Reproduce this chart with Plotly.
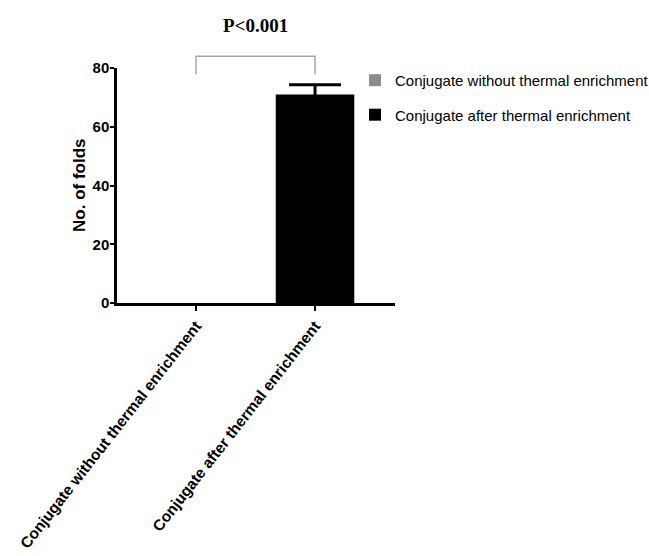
import plotly.graph_objects as go

categories = ["Conjugate without thermal enrichment", "Conjugate after thermal enrichment"]
values = [0, 71]
errors = [0, 3.3]
colors = ["#8c8c8c", "#000000"]
y_ticks = [0, 20, 40, 60, 80]
y_title = "No. of folds"
p_label = "P<0.001"

fig = go.Figure()
for i, (cat, val, err, col) in enumerate(zip(categories, values, errors, colors)):
    fig.add_trace(go.Bar(
        x=[cat], y=[val], name=cat, legendgroup=f"g{i}",
        marker=dict(color=col, line=dict(width=0)),
        width=0.66,
        error_y=dict(type="data", array=[err], visible=err > 0, color="#000000", thickness=3, width=26),
    ))

fig.update_layout(
    width=649, height=556,
    margin=dict(l=117, r=254, t=68, b=253, autoexpand=False),
    paper_bgcolor="white", plot_bgcolor="white",
    showlegend=True,
    barmode="overlay",
    legend=dict(
        xref="container", yref="container",
        x=0.547, y=0.885, xanchor="left", yanchor="top",
        font=dict(family="Liberation Sans, Arial", size=15, color="#000"),
        tracegroupgap=12, bgcolor="rgba(0,0,0,0)",
        traceorder="grouped",
    ),
    xaxis=dict(
        type="category", categoryorder="array", categoryarray=categories,
        range=[-0.664, 1.672], automargin=False,
        showline=True, linecolor="black", linewidth=2.5,
        ticks="outside", ticklen=5, tickwidth=2, tickcolor="black",
        tickangle=-52,
        tickfont=dict(family="Liberation Sans, Arial", size=15.5, color="black", weight="bold"),
        showgrid=False, zeroline=False,
    ),
    yaxis=dict(
        range=[0, 80], tickvals=y_ticks, automargin=False,
        showline=True, linecolor="black", linewidth=2.5,
        ticks="outside", ticklen=4, tickwidth=2, tickcolor="black",
        tickfont=dict(family="Liberation Sans, Arial", size=15, color="black", weight="bold"),
        showgrid=False, zeroline=False,
        ticklabelstandoff=-2,
    ),
)

fig.add_annotation(x=-0.135, xref="paper", y=0.5, yref="paper", text=f"<b>{y_title}</b>",
                   textangle=-90, showarrow=False, xanchor="center", yanchor="middle",
                   font=dict(family="Liberation Sans, Arial", size=17, color="black"))

# significance bracket
fig.add_shape(type="path", xref="x", yref="paper",
              path="M 0,0.973 L 0,1.05 L 1,1.05 L 1,0.973",
              line=dict(color="#a6a6a6", width=1.5))
fig.add_annotation(x=0.5, xref="x", y=1.18, yref="paper", text=f"<b>{p_label}</b>",
                   showarrow=False, yanchor="middle",
                   font=dict(family="Liberation Serif, Times New Roman", size=19, color="black"))

fig.write_html("out.html", config={"displayModeBar": False},
               post_script="document.body.style.margin='0px';")
